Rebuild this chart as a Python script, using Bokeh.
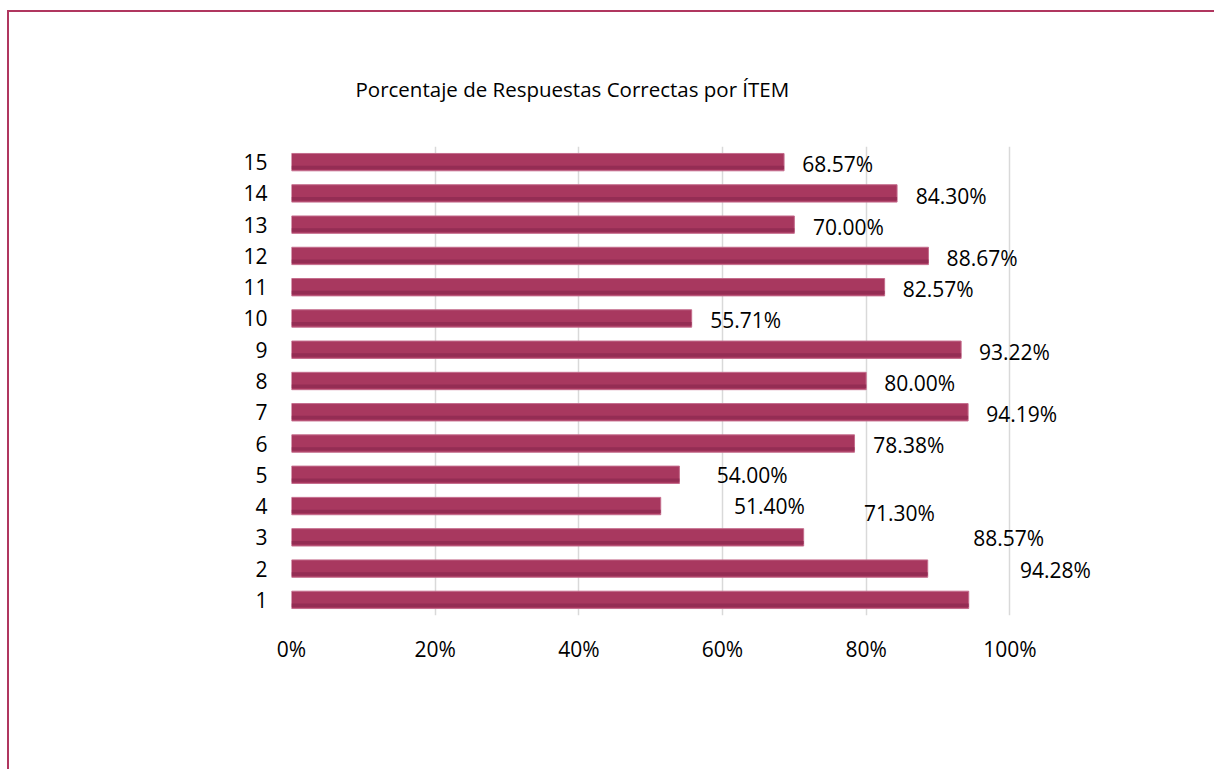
from bokeh.plotting import figure
from bokeh.models import Range1d, FixedTicker, ColumnDataSource, Title, InlineStyleSheet
from bokeh.core.properties import value
from bokeh.embed import file_html
from bokeh.resources import INLINE

# ---- data ----
items = [1, 2, 3, 4, 5, 6, 7, 8, 9, 10, 11, 12, 13, 14, 15]
pct = [94.28, 88.57, 71.30, 51.40, 54.00, 78.38, 94.19, 80.00, 93.22, 55.71,
       82.57, 88.67, 70.00, 84.30, 68.57]
labels = ["94.28%", "88.57%", "71.30%", "51.40%", "54.00%", "78.38%", "94.19%",
          "80.00%", "93.22%", "55.71%", "82.57%", "88.67%", "70.00%", "84.30%", "68.57%"]
x_ticks = [0, 20, 40, 60, 80, 100]
x_tick_labels = ["0%", "20%", "40%", "60%", "80%", "100%"]
title_text = "Porcentaje de Respuestas Correctas por ÍTEM"

# label placement (as manually arranged in the original chart), in data units
label_x = [101.4, 94.9, 79.7, 61.6, 59.2, 81.0, 96.7, 82.5, 95.7, 58.3,
           85.1, 91.2, 72.6, 86.9, 71.1]
label_y = [1.97, 2.98, 3.77, 3.99, 5.0, 5.94, 6.95, 7.94, 8.92, 9.94,
           10.95, 11.94, 12.92, 13.91, 14.93]

FONT = "Open Sans"
BAR = "#A8385F"
BAR_DARK = "#8E2B51"
BORDER = "#B0365F"

src = ColumnDataSource(dict(y=items, v=pct, lab=labels, lx=label_x, ly=label_y,
                            ylow=[i - 0.17 for i in items]))

p = figure(width=1214, height=769, output_backend="svg", toolbar_location=None,
           x_range=Range1d(0, 120), y_range=Range1d(0.5, 15.5),
           min_border_left=291, min_border_right=61,
           min_border_top=146, min_border_bottom=154)
p.background_fill_color = "white"
p.border_fill_color = "white"
p.outline_line_color = None

# title
t = Title(text=title_text, align="left", offset=64, standoff=87,
          text_font=FONT, text_font_size="20.5px", text_font_style="normal",
          text_color="#000000")
p.title = t

# grid
p.xgrid.ticker = FixedTicker(ticks=x_ticks)
p.xgrid.grid_line_color = "#D9D9D9"
p.xgrid.grid_line_width = 1.5
p.ygrid.grid_line_color = None

# bars
p.hbar(y="y", right="v", left=0, height=0.555, source=src,
       fill_color=BAR, line_color="#C46C8C", line_width=1)
p.hbar(y="ylow", right="v", left=0, height=0.11, source=src,
       fill_color=BAR_DARK, line_color=None, fill_alpha=0.8)

# value labels
p.text(x="lx", y="ly", text="lab", source=src, text_font=value(FONT),
       text_font_size="21px", text_baseline="middle", text_align="left",
       text_color="#000000")

# axes
p.xaxis.ticker = FixedTicker(ticks=x_ticks)
p.xaxis.major_label_overrides = {t_: l for t_, l in zip(x_ticks, x_tick_labels)}
p.yaxis.ticker = FixedTicker(ticks=items)
for ax in (p.xaxis[0], p.yaxis[0]):
    ax.axis_line_color = None
    ax.major_tick_line_color = None
    ax.minor_tick_line_color = None
    ax.major_label_text_font = FONT
    ax.major_label_text_font_size = "21px"
    ax.major_label_text_color = "#000000"
p.xaxis.major_label_standoff = 13
p.yaxis.major_label_standoff = 18

# outer chart-area border (drawn with CSS on the figure element)
p.stylesheets = [InlineStyleSheet(css=(
    ":host { position: relative; overflow: hidden; }"
    ":host::after { content: ''; position: absolute; left: 7px; top: 10px;"
    " width: 1260px; height: 800px; border: 2.5px solid " + BORDER + ";"
    " box-sizing: border-box; pointer-events: none; z-index: 10; }"
))]

open("out.html", "w").write(file_html(p, INLINE))
